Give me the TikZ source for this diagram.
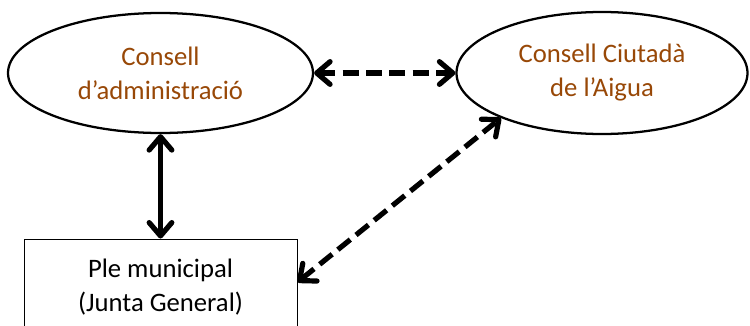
\documentclass[tikz,border=0pt]{standalone}
\usepackage{fontspec}
\setmainfont{Carlito}
\usetikzlibrary{shapes.geometric,arrows.meta}
\definecolor{ocre}{RGB}{152,72,7}

\begin{document}
\begin{tikzpicture}[x=0.75pt, y=-0.75pt, >={Straight Barb[length=10pt, width=17pt, round]},
	organ/.style={draw, ellipse, line width=1.7pt, inner sep=0pt, text=ocre, align=center, font=\fontsize{20}{25.5}\selectfont},
	plenari/.style={draw, rectangle, line width=0.75pt, inner sep=0pt, align=center, minimum width=204.75pt, minimum height=72pt, font=\fontsize{20}{25}\selectfont},
	lligam/.style={<->, line width=3.9pt},
	consulta/.style={lligam, dash pattern=on 12pt off 5.5pt}]
	\useasboundingbox (0,0) rectangle (750,325);
	\clip (0,0) rectangle (750,325);
	% organs de govern
	\node[organ, minimum width=228.75pt, minimum height=90pt] (cda) at (160.5,73) {Consell\\d’administració};
	\node[organ, minimum width=218.25pt, minimum height=91.5pt] (cca) at (602,73) {Consell Ciutadà\\de l’Aigua};
	\node[plenari] (ple) at (160.5,287) {Ple municipal\\(Junta General)};
	% relacions
	\draw[lligam] (cda.south) -- (ple.north);
	\draw[consulta] (cda.east) -- (cca.west);
	\draw[consulta] (ple.2) -- (cca.204);
\end{tikzpicture}
\end{document}
